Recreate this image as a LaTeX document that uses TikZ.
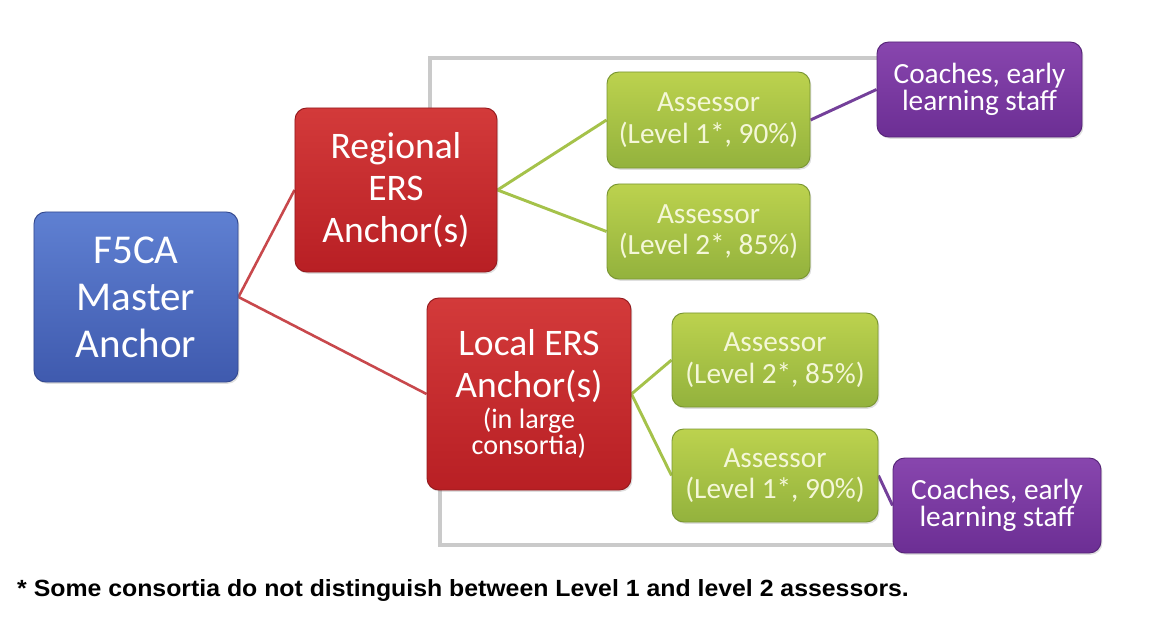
\documentclass[tikz,border=0pt]{standalone}
\usepackage{fontspec}
\usepackage{graphicx}
\setmainfont{Carlito}
\newfontfamily\footfont{Liberation Sans}
\usetikzlibrary{backgrounds,shadows}
\definecolor{bluetop}{HTML}{5F80D2}
\definecolor{bluebot}{HTML}{3F5AAE}
\definecolor{blueedge}{HTML}{34498F}
\definecolor{redtop}{HTML}{D33A3A}
\definecolor{redbot}{HTML}{B81F24}
\definecolor{rededge}{HTML}{941A1E}
\definecolor{greentop}{HTML}{BCD24E}
\definecolor{greenbot}{HTML}{93B23D}
\definecolor{greenedge}{HTML}{7A9632}
\definecolor{purptop}{HTML}{8846AE}
\definecolor{purpbot}{HTML}{6C2E94}
\definecolor{purpedge}{HTML}{562478}
\definecolor{greentext}{HTML}{F4F7D8}
\definecolor{bracket}{HTML}{CACACA}
\definecolor{redline}{HTML}{C8484C}
\definecolor{greenline}{HTML}{A5C24A}
\definecolor{purpline}{HTML}{74409A}
\tikzset{
  box/.style={rounded corners=10pt, align=center, inner sep=0pt, line width=0.8pt,
    drop shadow={opacity=0.25, shadow xshift=1.2pt, shadow yshift=-1.5pt}},
  bluebox/.style={box, top color=bluetop, bottom color=bluebot, draw=blueedge, text=white,
    font=\fontsize{35}{40}\selectfont},
  redbox/.style={box, top color=redtop, bottom color=redbot, draw=rededge, text=white},
  greenbox/.style={box, top color=greentop, bottom color=greenbot, draw=greenedge, text=greentext,
    font=\fontsize{25}{27}\selectfont},
  purpbox/.style={box, top color=purptop, bottom color=purpbot, draw=purpedge, text=white,
    font=\fontsize{25}{23.5}\selectfont},
  redcon/.style={draw=redline, line width=2.2pt},
  greencon/.style={draw=greenline, line width=2.5pt},
  purpcon/.style={draw=purpline, line width=2.5pt},
  brackcon/.style={draw=bracket, line width=3pt},
}
\begin{document}
\begin{tikzpicture}[x=0.03cm,y=-0.03cm]
\useasboundingbox (0,0) rectangle (1149,622);
\coordinate (tb1) at (430,58);
\coordinate (tb2) at (900,58);
\coordinate (bb1) at (440,545);
\coordinate (bb2) at (915,545);
\node[bluebox, minimum width=6.12cm, minimum height=5.1cm] (master) at (136,297) {F5CA\\Master\\Anchor};
\node[redbox, minimum width=6.06cm, minimum height=4.92cm, font=\fontsize{32}{36}\selectfont] (regional) at (396,190) {Regional\\ERS\\Anchor(s)};
\node[redbox, minimum width=6.12cm, minimum height=5.76cm] (local) at (529,394)
  {\fontsize{32}{22}\selectfont Local ERS\\[11.3pt]\fontsize{32}{22}\selectfont Anchor(s)\\[3.5pt]
   \fontsize{24}{22}\selectfont (in large\\\fontsize{24}{22}\selectfont consortia)};
\node[greenbox, minimum width=6.09cm, minimum height=2.88cm] (ra1) at (708.5,120) {Assessor\\(Level 1*, 90\%)};
\node[greenbox, minimum width=6.09cm, minimum height=2.85cm] (ra2) at (708.5,231.5) {Assessor\\(Level 2*, 85\%)};
\node[greenbox, minimum width=6.18cm, minimum height=2.82cm] (la2) at (775,360) {Assessor\\(Level 2*, 85\%)};
\node[greenbox, minimum width=6.18cm, minimum height=2.79cm] (la1) at (775,475.5) {Assessor\\(Level 1*, 90\%)};
\node[purpbox, minimum width=6.15cm, minimum height=2.85cm] (coach1) at (979.5,89.5) {Coaches, early\\learning staff};
\node[purpbox, minimum width=6.24cm, minimum height=2.85cm] (coach2) at (997,505.5) {Coaches, early\\learning staff};
\begin{scope}[on background layer]
\draw[brackcon] (regional.north -| tb1) -- (tb1) -- (tb2);
\draw[brackcon] (local.south -| bb1) -- (bb1) -- (bb2);
\draw[redcon] (master.east) -- (regional.west);
\draw[redcon] (master.east) -- (local.west);
\draw[greencon] (regional.east) -- (ra1.west);
\draw[greencon] (regional.east) -- (ra2.west);
\draw[greencon] (local.east) -- (la2.west);
\draw[greencon] (local.east) -- (la1.west);
\draw[purpcon] (ra1.east) -- (coach1.west);
\draw[purpcon] (la1.east) -- (coach2.west);
\end{scope}
\node[anchor=base west, inner sep=0pt, font=\footfont\bfseries\fontsize{20}{22}\selectfont] (foot) at (17,596)
  {\scalebox{1.06}[1]{* Some consortia do not distinguish between Level 1 and level 2 assessors.}};
\end{tikzpicture}
\end{document}
